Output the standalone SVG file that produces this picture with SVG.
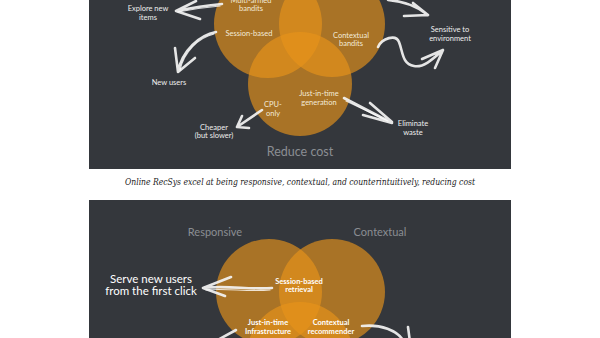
<svg xmlns="http://www.w3.org/2000/svg" width="600" height="338" viewBox="0 0 600 338">
<style>
.panel{fill:#34373c}
.c{fill:#e8941a;fill-opacity:0.65}
.lbl{font-family:Lato,"Open Sans","Liberation Sans",sans-serif;font-size:7.5px;fill:#f3ead8;text-anchor:middle}
.wl{font-family:Lato,"Open Sans","Liberation Sans",sans-serif;font-size:7.5px;fill:#eeeeee;text-anchor:middle}
.bl{font-family:Lato,"Open Sans","Liberation Sans",sans-serif;font-size:7.5px;font-weight:bold;fill:#ffffff;text-anchor:middle}
.ttl{font-family:Lato,"Open Sans","Liberation Sans",sans-serif;fill:#8b8e93;text-anchor:middle}
.big{font-family:Lato,"Open Sans","Liberation Sans",sans-serif;font-size:11.5px;fill:#ffffff;text-anchor:middle}
.cap{font-family:"DejaVu Serif","Liberation Serif",serif;font-style:italic;font-size:8.5px;fill:#222222;text-anchor:middle}
.ar{fill:none;stroke:#f4f4f4;stroke-width:2.6;stroke-linecap:round;stroke-linejoin:round;opacity:0.92}
.ar2{fill:none;stroke:#ffffff;stroke-width:1.2;stroke-linecap:round;opacity:0.8}
</style>
<rect x="0" y="0" width="600" height="338" fill="#ffffff"/>
<rect class="panel" x="89" y="0" width="422" height="169"/>
<rect class="panel" x="89" y="200" width="422" height="138"/>

<g id="top-venn">
<circle class="c" cx="268" cy="24" r="54"/>
<circle class="c" cx="332" cy="24" r="53"/>
<circle class="c" cx="300" cy="84" r="52"/>
</g>
<g id="reduce-cost"><text class="ttl" x="300" y="156" font-size="12.5">Reduce cost</text></g>
<g id="multi-armed"><text class="lbl" x="251" y="3">Multi-armed</text><text class="lbl" x="251" y="11">bandits</text></g>
<g id="session-based"><text class="lbl" x="249" y="36">Session-based</text></g>
<g id="contextual-bandits"><text class="lbl" x="351" y="38">Contextual</text><text class="lbl" x="351" y="46">bandits</text></g>
<g id="just-in-time-generation"><text class="lbl" x="319" y="96">Just-in-time</text><text class="lbl" x="319" y="105">generation</text></g>
<g id="cpu-only"><text class="lbl" x="273" y="107">CPU-</text><text class="lbl" x="273" y="116">only</text></g>
<g id="explore-new-items"><text class="wl" x="148" y="11">Explore new</text><text class="wl" x="148" y="20">items</text></g>
<g id="new-users"><text class="wl" x="169" y="85">New users</text></g>
<g id="sensitive"><text class="wl" x="450" y="32">Sensitive to</text><text class="wl" x="450" y="41">environment</text></g>
<g id="cheaper"><text class="wl" x="214" y="130">Cheaper</text><text class="wl" x="214" y="138">(but slower)</text></g>
<g id="eliminate-waste"><text class="wl" x="413" y="126">Eliminate</text><text class="wl" x="413" y="135">waste</text></g>

<g id="caption"><text class="cap" x="300" y="185" textLength="350" lengthAdjust="spacingAndGlyphs">Online RecSys excel at being responsive, contextual, and counterintuitively, reducing cost</text></g>

<g id="bottom-venn">
<circle class="c" cx="269" cy="292" r="53"/>
<circle class="c" cx="332" cy="292" r="53"/>
<circle class="c" cx="300" cy="355" r="53"/>
</g>
<g id="responsive"><text class="ttl" x="215" y="236" font-size="11">Responsive</text></g>
<g id="contextual"><text class="ttl" x="380" y="236" font-size="11">Contextual</text></g>
<g id="session-retrieval"><text class="bl" x="299" y="284">Session-based</text><text class="bl" x="299" y="292">retrieval</text></g>
<g id="jit-infra"><text class="bl" x="268" y="325">Just-in-time</text><text class="bl" x="268" y="334">Infrastructure</text></g>
<g id="ctx-recommender"><text class="bl" x="331" y="325">Contextual</text><text class="bl" x="331" y="334">recommender</text></g>
<g id="serve-new-users"><text class="big" x="151" y="283">Serve new users</text><text class="big" x="151" y="295">from the first click</text></g>

<g id="connectors">
<path class="ar" d="M222 4 Q200 6 176 11 M196 1 L176 11 L200 19"/>
<path class="ar2" d="M220 6 Q198 8 178 12"/>
<path class="ar" d="M216 32 C200 35 182 50 178 72 M175 48 L178 72 L195 58"/>
<path class="ar2" d="M214 34 C198 38 184 52 180 70"/>
<path class="ar" d="M388 0 Q412 2 428 15 M413 3 L428 15 L404 16"/>
<path class="ar" d="M378 47 C382 38 396 34 399 42 C403 52 402 64 414 66 C424 68 434 58 443 50 M422 59 L443 50 L435 68"/>
<path class="ar" d="M262 110 L237 127 M242 116 L237 127 L249 128"/>
<path class="ar" d="M344 98 L392 123 M370 103 L392 122 M363 115 L392 123"/>
<path class="ar2" d="M346 101 L388 121"/>
<path class="ar" d="M272 288 C250 290 226 285 203 288 M231 277 L203 288 L225 296"/>
<path class="ar2" d="M270 290 C248 292 226 288 206 290"/>
<path class="ar" d="M236 330 L214 342"/>
<path class="ar" d="M362 326 C380 324 398 330 404 342 M408 327 L410 342"/>
</g>
</svg>
